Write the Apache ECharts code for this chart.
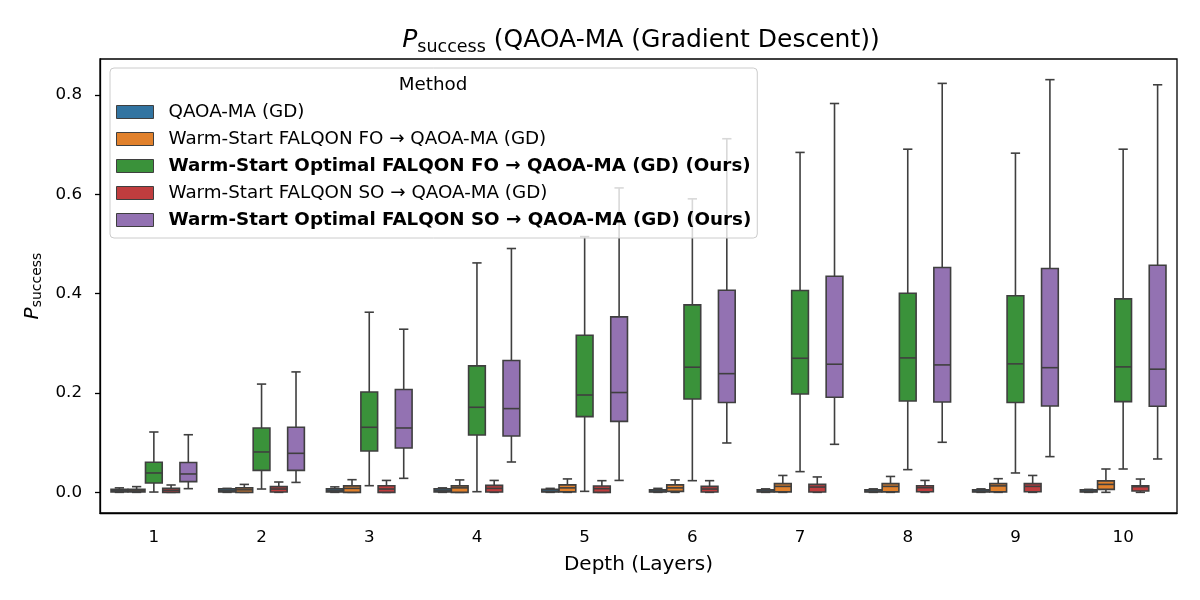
<!DOCTYPE html>
<html lang="en">
  <head>
    <meta charset="UTF-8" />
    <title>P_success (QAOA-MA (Gradient Descent))</title>
    <style>
      * {
        padding: 0;
        margin: 0;
      }
    </style>
    <script src="https://cdn.jsdelivr.net/npm/echarts@6/dist/echarts.min.js"></script>
  </head>
  <body>
    <div id="main" style="width: 1200px; height: 600px;"></div>
    <script type="text/javascript">
      // box stats per depth: [min, q1, median, q3, max]
      const depths = ['1', '2', '3', '4', '5', '6', '7', '8', '9', '10'];
      const methods = [
        'QAOA-MA (GD)',
        'Warm-Start FALQON FO → QAOA-MA (GD)',
        'Warm-Start Optimal FALQON FO → QAOA-MA (GD) (Ours)',
        'Warm-Start FALQON SO → QAOA-MA (GD)',
        'Warm-Start Optimal FALQON SO → QAOA-MA (GD) (Ours)'
      ];
      const boldMethods = [false, false, true, false, true];
      const colors = ['#3274a1', '#e1812c', '#3a923a', '#c03d3e', '#9372b2'];

      const qaoaGD = [
        [0.000, 0.001, 0.003, 0.006, 0.009],
        [0.000, 0.001, 0.003, 0.007, 0.008],
        [0.000, 0.001, 0.003, 0.007, 0.011],
        [0.000, 0.001, 0.003, 0.007, 0.009],
        [0.000, 0.001, 0.002, 0.006, 0.008],
        [0.000, 0.001, 0.002, 0.005, 0.008],
        [0.000, 0.001, 0.002, 0.005, 0.007],
        [0.000, 0.001, 0.002, 0.005, 0.007],
        [0.000, 0.001, 0.002, 0.005, 0.007],
        [0.000, 0.001, 0.002, 0.005, 0.006]
      ];
      const warmFO = [
        [0.000, 0.001, 0.003, 0.006, 0.0115],
        [0.000, 0.000, 0.005, 0.009, 0.016],
        [0.000, 0.000, 0.008, 0.013, 0.0255],
        [0.000, 0.000, 0.009, 0.013, 0.025],
        [0.000, 0.001, 0.009, 0.015, 0.027],
        [0.000, 0.002, 0.009, 0.015, 0.025],
        [0.000, 0.001, 0.012, 0.0175, 0.034],
        [0.000, 0.001, 0.012, 0.0175, 0.032],
        [0.000, 0.001, 0.013, 0.0175, 0.0275],
        [0.000, 0.006, 0.016, 0.023, 0.047]
      ];
      const optimalFO = [
        [0.0006, 0.0188, 0.039, 0.0605, 0.1215],
        [0.0067, 0.0443, 0.0813, 0.1296, 0.218],
        [0.0134, 0.0833, 0.131, 0.202, 0.3627],
        [0.0013, 0.1155, 0.1713, 0.2546, 0.462],
        [0.002, 0.1525, 0.196, 0.3164, 0.515],
        [0.0235, 0.188, 0.252, 0.3775, 0.591],
        [0.0417, 0.198, 0.270, 0.4064, 0.6845],
        [0.0457, 0.184, 0.2707, 0.401, 0.691],
        [0.039, 0.181, 0.2587, 0.396, 0.683],
        [0.047, 0.1827, 0.2526, 0.3896, 0.691]
      ];
      const warmSO = [
        [0.000, 0.000, 0.004, 0.008, 0.0148],
        [0.000, 0.0007, 0.0067, 0.0115, 0.0208],
        [0.000, 0.000, 0.0067, 0.0134, 0.024],
        [0.000, 0.0007, 0.008, 0.014, 0.024],
        [0.000, 0.000, 0.0074, 0.0127, 0.0235],
        [0.000, 0.0007, 0.0067, 0.012, 0.0235],
        [0.000, 0.0007, 0.0107, 0.016, 0.031],
        [0.000, 0.0013, 0.0094, 0.0134, 0.024],
        [0.000, 0.0013, 0.012, 0.0175, 0.034],
        [0.000, 0.0027, 0.0114, 0.0134, 0.0268]
      ];
      const optimalSO = [
        [0.0074, 0.0215, 0.037, 0.060, 0.116],
        [0.020, 0.0443, 0.0786, 0.131, 0.2425],
        [0.0282, 0.0893, 0.1296, 0.207, 0.3285],
        [0.0611, 0.1135, 0.1686, 0.2654, 0.491],
        [0.024, 0.143, 0.201, 0.3533, 0.613],
        [0.0994, 0.181, 0.239, 0.407, 0.712],
        [0.0967, 0.1914, 0.258, 0.435, 0.783],
        [0.1008, 0.182, 0.2566, 0.4527, 0.8235],
        [0.0719, 0.174, 0.251, 0.4507, 0.831],
        [0.0672, 0.1733, 0.248, 0.4574, 0.8207]
      ];
      const allStats = [qaoaGD, warmFO, optimalFO, warmSO, optimalSO];

      const font = 'DejaVu Sans';
      const edge = '#3f3f3f';

      // seaborn-like box: caps half the box width, no fliers
      function boxRenderer(idx) {
        return function (params, api) {
          const band = api.size([1, 0])[0];
          const slot = (band * 0.8) / methods.length;
          const cx = api.coord([api.value(0), 0])[0] + (idx - 2) * slot;
          const w = slot - 0.5;
          const y = [1, 2, 3, 4, 5].map(i => api.coord([api.value(0), api.value(i)])[1]);
          const line = {stroke: edge, lineWidth: 1.6};
          return {
            type: 'group',
            children: [
              {type: 'line', shape: {x1: cx, y1: y[0], x2: cx, y2: y[1]}, style: line},
              {type: 'line', shape: {x1: cx, y1: y[3], x2: cx, y2: y[4]}, style: line},
              {type: 'line', shape: {x1: cx - w / 3.6, y1: y[0], x2: cx + w / 3.6, y2: y[0]}, style: line},
              {type: 'line', shape: {x1: cx - w / 3.6, y1: y[4], x2: cx + w / 3.6, y2: y[4]}, style: line},
              {
                type: 'rect',
                shape: {x: cx - w / 2, y: y[3], width: w, height: y[1] - y[3]},
                style: {fill: colors[idx], stroke: edge, lineWidth: 1.6}
              },
              {type: 'line', shape: {x1: cx - w / 2, y1: y[2], x2: cx + w / 2, y2: y[2]}, style: line}
            ]
          };
        };
      }

      const myChart = echarts.init(document.getElementById('main'));

      const option = {
        animation: false,
        backgroundColor: '#ffffff',
        textStyle: {fontFamily: font},
        title: {
          text: '{i|P}{s|success}{t| (QAOA-MA (Gradient Descent))}',
          left: 636,
          top: 20,
          textAlign: 'center',
          textStyle: {
            fontWeight: 'normal',
            rich: {
              i: {fontFamily: font, fontStyle: 'italic', fontWeight: 'normal', fontSize: 25, lineHeight: 31, color: '#000'},
              s: {fontFamily: font, fontWeight: 'normal', fontSize: 17.5, lineHeight: 17, verticalAlign: 'bottom', color: '#000'},
              t: {fontFamily: font, fontWeight: 'normal', fontSize: 25, lineHeight: 31, color: '#000'}
            }
          }
        },
        legend: {
          orient: 'vertical',
          left: 110,
          top: 68,
          padding: [34, 6, 8, 6],
          itemWidth: 37,
          itemHeight: 13,
          itemGap: 7,
          backgroundColor: 'rgba(255,255,255,0.8)',
          borderColor: '#cccccc',
          borderWidth: 1,
          borderRadius: 4,
          data: methods.map((m, i) => ({
            name: m,
            icon: 'rect',
            itemStyle: {color: colors[i], borderColor: edge, borderWidth: 1}
          })),
          formatter: name => (boldMethods[methods.indexOf(name)] ? '{b|' : '{n|') + name + '}',
          textStyle: {
            lineHeight: 20,
            rich: {
              n: {fontFamily: font, fontSize: 18.3, lineHeight: 20, color: '#000', padding: [0, 0, 0, 10]},
              b: {fontFamily: font, fontSize: 18.3, lineHeight: 20, fontWeight: 'bold', color: '#000', padding: [0, 0, 0, 10]}
            }
          },
          selectedMode: false
        },
        graphic: [
          {
            type: 'text',
            x: 433,
            y: 85,
            z: 10,
            style: {
              text: 'Method',
              fontFamily: font,
              fontSize: 18.3,
              fill: '#000',
              align: 'center',
              verticalAlign: 'middle'
            }
          }
        ],
        grid: {
          left: 100,
          right: 23,
          top: 59,
          bottom: 87,
          show: true,
          borderColor: '#000',
          borderWidth: 1.3,
          backgroundColor: 'transparent'
        },
        xAxis: {
          type: 'category',
          data: depths,
          boundaryGap: true,
          name: 'Depth (Layers)',
          nameLocation: 'middle',
          nameGap: 42,
          nameTextStyle: {fontFamily: font, fontSize: 20, color: '#000'},
          axisLine: {onZero: false, lineStyle: {color: '#000', width: 1.3}},
          axisTick: {alignWithLabel: true, length: 5, lineStyle: {color: '#000', width: 1.3}},
          axisLabel: {fontFamily: font, fontSize: 16.7, color: '#000', margin: 16},
          splitLine: {show: false}
        },
        yAxis: {
          type: 'value',
          min: -0.0416,
          max: 0.8726,
          splitNumber: 5,
          name: '{i|P}{s|success}',
          nameLocation: 'middle',
          nameGap: 54,
          nameTextStyle: {
            rich: {
              i: {fontFamily: font, fontStyle: 'italic', fontSize: 20, lineHeight: 24, color: '#000'},
              s: {fontFamily: font, fontSize: 14, lineHeight: 14, verticalAlign: 'bottom', color: '#000'}
            }
          },
          axisLine: {show: true, onZero: false, lineStyle: {color: '#000', width: 1.3}},
          axisTick: {show: true, length: 5, lineStyle: {color: '#000', width: 1.3}},
          axisLabel: {
            fontFamily: font,
            fontSize: 16.7,
            color: '#000',
            margin: 18,
            showMinLabel: false,
            showMaxLabel: false,
            formatter: v => (Math.abs(v / 0.2 - Math.round(v / 0.2)) < 1e-6 ? v.toFixed(1) : '')
          },
          splitLine: {show: false}
        },
        series: methods.map((m, i) => ({
          name: m,
          type: 'custom',
          renderItem: boxRenderer(i),
          itemStyle: {color: colors[i]},
          encode: {x: 0, y: [1, 2, 3, 4, 5]},
          data: allStats[i].map((s, d) => [d].concat(s))
        }))
      };

      myChart.setOption(option);
    </script>
  </body>
</html>
